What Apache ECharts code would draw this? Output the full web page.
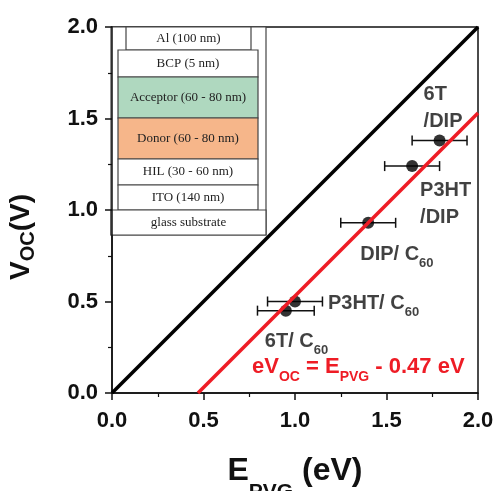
<!DOCTYPE html>
<html>
<head>
<meta charset="utf-8">
<script src="https://cdn.jsdelivr.net/npm/echarts@6/dist/echarts.min.js"></script>
<style>
html,body{margin:0;padding:0;background:#fff;}
#chart{width:497px;height:491px;}
</style>
</head>
<body>
<div id="chart"></div>
<script>
// ---- data ----
const pointNames = ['6T/DIP', 'P3HT/DIP', 'DIP/C60', 'P3HT/C60', '6T/C60'];
const epvg = [1.79, 1.64, 1.40, 1.00, 0.95];
const voc = [1.38, 1.24, 0.93, 0.50, 0.45];
const epvgErr = [0.15, 0.15, 0.15, 0.15, 0.155];
const idealX = [0, 2.0];
const idealY = [0, 2.0];
const fitX = [0.47, 2.0];
const fitY = [0, 1.53];
const axisTicks = [0.0, 0.5, 1.0, 1.5, 2.0];
const stackLayers = ['Al (100 nm)', 'BCP (5 nm)', 'Acceptor (60 - 80 nm)', 'Donor (60 - 80 nm)', 'HIL (30 - 60 nm)', 'ITO (140 nm)', 'glass substrate'];

// ---- styling ----
const FONT = '"Liberation Sans", Arial, sans-serif';
const SERIF = '"Liberation Serif", "Times New Roman", serif';
const RED = '#ee1c25';
const INK = '#111';
const labelRich = {
  m: {fontFamily: FONT, fontWeight: 'bold', fontSize: 20, color: INK, verticalAlign: 'top', lineHeight: 27},
  s: {fontFamily: FONT, fontWeight: 'bold', fontSize: 13, color: INK, verticalAlign: 'top', padding: [13, 0, 0, 0], lineHeight: 14}
};
const labelLayout = {
  '6T/DIP':   {text: '{m|6T}\n{m|/DIP}', pos: [-10, -23]},
  'P3HT/DIP': {text: '{m|P3HT}\n{m|/DIP}', pos: [14, 47]},
  'DIP/C60':  {text: '{m|DIP/ C}{s|60}', pos: [-2, 41]},
  'P3HT/C60': {text: '{m|P3HT/ C}{s|60}', pos: [39, 11]},
  '6T/C60':   {text: '{m|6T/ C}{s|60}', pos: [-15, 40]}
};

const scatterData = pointNames.map((n, i) => ({
  name: n,
  value: [epvg[i], voc[i]],
  label: {
    show: true,
    formatter: labelLayout[n].text,
    position: labelLayout[n].pos,
    align: 'left',
    verticalAlign: 'middle',
    color: INK,
    rich: labelRich
  }
}));
const errData = pointNames.map((n, i) => [epvg[i], voc[i], epvgErr[i]]);

// inset geometry (pixel, it is a picture inset)
const layerBoxes = [
  {x: 126, y: 27, w: 125, h: 23, fill: '#fff'},
  {x: 118, y: 50, w: 140, h: 27, fill: '#fff'},
  {x: 118, y: 77, w: 140, h: 41, fill: '#afd8bf'},
  {x: 118, y: 118, w: 140, h: 41, fill: '#f6b68a'},
  {x: 118, y: 159, w: 140, h: 26, fill: '#fff'},
  {x: 118, y: 185, w: 140, h: 25, fill: '#fff'},
  {x: 111, y: 210, w: 155, h: 25, fill: '#fff'}
];
const insetChildren = [{
  type: 'rect', shape: {x: 111, y: 27, width: 155, height: 208},
  style: {fill: '#fff', stroke: '#444', lineWidth: 1.2}
}];
layerBoxes.forEach((b, i) => {
  insetChildren.push({
    type: 'rect', shape: {x: b.x, y: b.y, width: b.w, height: b.h},
    style: {fill: b.fill, stroke: '#444', lineWidth: 1.2}
  });
  insetChildren.push({
    type: 'text', x: b.x + b.w / 2, y: b.y + b.h / 2,
    style: {text: stackLayers[i], font: '13px ' + SERIF, fill: '#222', align: 'center', verticalAlign: 'middle'}
  });
});

const chart = echarts.init(document.getElementById('chart'), null, {renderer: 'canvas'});
chart.setOption({
  animation: false,
  backgroundColor: '#fff',
  grid: {left: 112, top: 27, right: 19, bottom: 98, containLabel: false, outerBoundsMode: 'none',
         show: true, borderColor: '#111', borderWidth: 1.5, backgroundColor: 'transparent'},
  xAxis: {
    type: 'value', min: axisTicks[0], max: axisTicks[axisTicks.length - 1], interval: 0.5,
    axisLine: {show: true, onZero: false, lineStyle: {color: '#111', width: 1.5}},
    axisTick: {show: true, length: 7, lineStyle: {color: '#111', width: 1.5}},
    minorTick: {show: true, splitNumber: 2, length: 4, lineStyle: {color: '#111', width: 1.2}},
    splitLine: {show: false},
    axisLabel: {margin: 17, fontFamily: FONT, fontWeight: 'bold', fontSize: 22, color: INK, formatter: v => v.toFixed(1)},
    name: '{m|E}{s|PVG}{m| (eV)}',
    nameLocation: 'middle', nameGap: 62,
    nameTextStyle: {
      rich: {
        m: {fontFamily: FONT, fontWeight: 'bold', fontSize: 32, color: INK, verticalAlign: 'top', lineHeight: 34},
        s: {fontFamily: FONT, fontWeight: 'bold', fontSize: 21, color: INK, verticalAlign: 'top', padding: [27, 0, 0, 0], lineHeight: 22}
      }
    }
  },
  yAxis: {
    type: 'value', min: axisTicks[0], max: axisTicks[axisTicks.length - 1], interval: 0.5,
    axisLine: {show: true, onZero: false, lineStyle: {color: '#111', width: 1.5}},
    axisTick: {show: true, length: 7, lineStyle: {color: '#111', width: 1.5}},
    minorTick: {show: true, splitNumber: 2, length: 4, lineStyle: {color: '#111', width: 1.2}},
    splitLine: {show: false},
    axisLabel: {margin: 14, fontFamily: FONT, fontWeight: 'bold', fontSize: 22, color: INK, formatter: v => v.toFixed(1)},
    name: '{m|V}{s|OC}{m|(V)}',
    nameLocation: 'middle', nameGap: 75, nameRotate: 90,
    nameTextStyle: {
      padding: [0, 54, 0, 0],
      rich: {
        m: {fontFamily: FONT, fontWeight: 'bold', fontSize: 28, color: INK, verticalAlign: 'top', lineHeight: 30},
        s: {fontFamily: FONT, fontWeight: 'bold', fontSize: 20, color: INK, verticalAlign: 'top', padding: [11, 0, 0, 0], lineHeight: 21}
      }
    }
  },
  series: [
    {
      type: 'custom', name: 'xerr', z: 3,
      data: errData,
      renderItem: function (params, api) {
        const y = api.value(1), x = api.value(0), e = api.value(2);
        const p1 = api.coord([x - e, y]);
        const p2 = api.coord([x + e, y]);
        const h = 5;
        const st = {stroke: '#111', lineWidth: 1.5};
        return {type: 'group', children: [
          {type: 'line', shape: {x1: p1[0], y1: p1[1], x2: p2[0], y2: p2[1]}, style: st},
          {type: 'line', shape: {x1: p1[0], y1: p1[1] - h, x2: p1[0], y2: p1[1] + h}, style: st},
          {type: 'line', shape: {x1: p2[0], y1: p2[1] - h, x2: p2[0], y2: p2[1] + h}, style: st}
        ]};
      }
    },
    {
      type: 'scatter', name: 'Voc', z: 4,
      symbol: 'circle', symbolSize: 12,
      itemStyle: {color: '#000'},
      data: scatterData
    },
    {
      type: 'line', name: 'ideal', z: 5, symbol: 'none',
      lineStyle: {color: '#000', width: 3.5},
      data: idealX.map((x, i) => [x, idealY[i]])
    },
    {
      type: 'line', name: 'fit', z: 5, symbol: 'none',
      lineStyle: {color: RED, width: 3.5},
      data: fitX.map((x, i) => [x, fitY[i]])
    }
  ],
  graphic: [
    {type: 'group', z: 100, children: insetChildren},
    {
      type: 'text', z: 100, left: 252, top: 356,
      style: {
        text: '{m|eV}{s|OC}{m| = E}{s|PVG}{m| - 0.47 eV}',
        rich: {
          m: {fontFamily: FONT, fontWeight: 'bold', fontSize: 22, fill: RED, verticalAlign: 'top', lineHeight: 24},
          s: {fontFamily: FONT, fontWeight: 'bold', fontSize: 14, fill: RED, verticalAlign: 'top', padding: [14, 0, 0, 0], lineHeight: 15}
        }
      }
    }
  ]
});
</script>
</body>
</html>
